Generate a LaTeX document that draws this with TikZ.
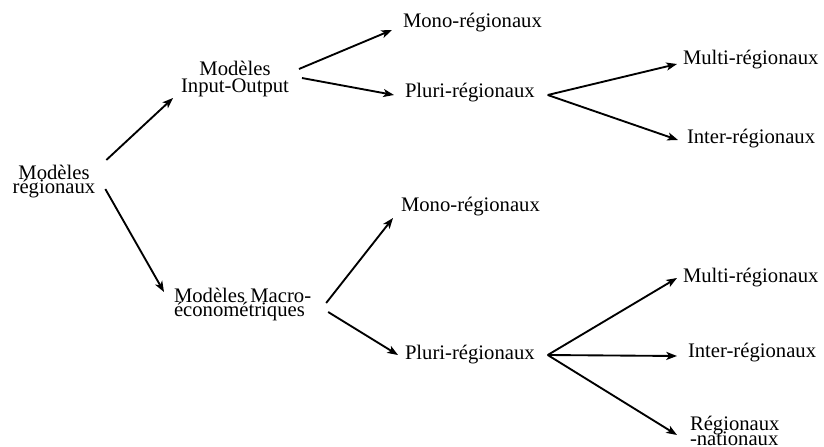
\documentclass[tikz,border=0pt]{standalone}
\usepackage{fontspec}
\setmainfont{Liberation Serif}
\usetikzlibrary{calc,arrows.meta}
\begin{document}
\begin{tikzpicture}[x=0.75pt,y=-0.75pt,
  lbl/.style={inner sep=0pt,outer sep=0pt,font=\fontsize{15.5}{18}\selectfont},
  arr/.style={draw,line width=1.4pt,-{Stealth[length=8pt,width=6pt,inset=2pt]}}]
\useasboundingbox (0,0) rectangle (824,446);

\node[lbl,align=center,anchor=base] (reg) at (54,193) {Modèles\\[-8pt]régionaux};
\node[lbl,align=center,anchor=base] (io) at (235,92) {Modèles\\[-5.6pt]Input-Output};
\node[lbl,align=left,anchor=base west] (mac) at (174,316) {Modèles Macro-\\[-8pt]économétriques};

\node[lbl,anchor=base west] (mono1) at (403,27) {Mono-régionaux};
\node[lbl,anchor=base west] (pluri1) at (405,97) {Pluri-régionaux};
\node[lbl,anchor=base west] (multi1) at (683,64) {Multi-régionaux};
\node[lbl,anchor=base west] (inter1) at (687,143) {Inter-régionaux};

\node[lbl,anchor=base west] (mono2) at (401,211) {Mono-régionaux};
\node[lbl,anchor=base west] (pluri2) at (405,359) {Pluri-régionaux};
\node[lbl,anchor=base west] (multi2) at (683,282) {Multi-régionaux};
\node[lbl,anchor=base west] (inter2) at (688,357) {Inter-régionaux};
\node[lbl,align=left,anchor=base west] (regnat) at (690,445) {Régionaux\\[-7.2pt]-nationaux};

\coordinate (f1) at ($(pluri1.base east)+(13,-2)$);
\coordinate (f2) at ($(pluri2.base east)+(13,-4)$);

\path[arr] ($(reg.base east)+(11,-33)$) -- ($(io.base west)+(-8,6)$);
\path[arr] ($(reg.base east)+(10,-4)$) -- ($(mac.base west)+(-10,-24)$);

\path[arr] ($(io.base east)+(10,-23)$) -- ($(mono1.base west)+(-11,3)$);
\path[arr] ($(io.base east)+(13,-14)$) -- ($(pluri1.base west)+(-11,-2)$);
\path[arr] (f1) -- ($(multi1.base west)+(-6,0)$);
\path[arr] (f1) -- ($(inter1.base west)+(-9,-3)$);

\path[arr] ($(mac.base east)+(15,-13)$) -- ($(mono2.base west)+(-8,7)$);
\path[arr] ($(mac.base east)+(17,-4)$) -- ($(pluri2.base west)+(-7,-4)$);
\path[arr] (f2) -- ($(multi2.base west)+(-6,-4)$);
\path[arr] (f2) -- ($(inter2.base west)+(-11,-1)$);
\path[arr] (f2) -- ($(regnat.base west)+(-13,-10)$);

\end{tikzpicture}
\end{document}
